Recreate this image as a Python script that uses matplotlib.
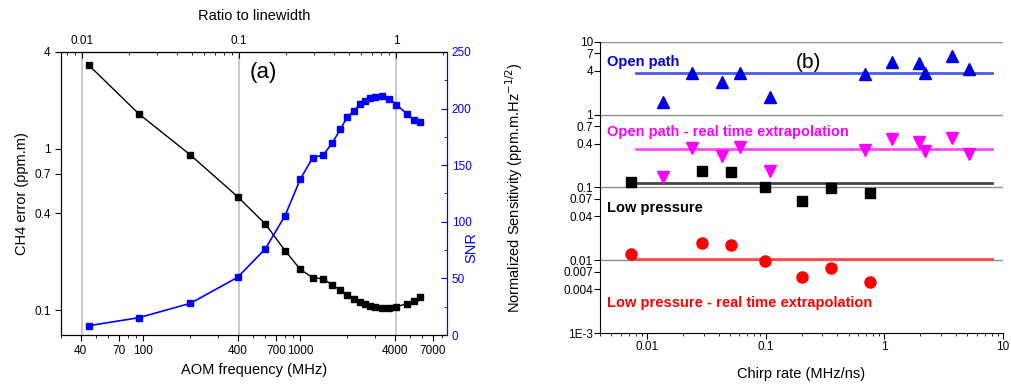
import numpy as np
import matplotlib
matplotlib.use('Agg')
import matplotlib.pyplot as plt
from matplotlib.ticker import FixedLocator, NullFormatter, LogLocator

plt.rcParams['font.family'] = ['Liberation Sans', 'DejaVu Sans']

# ---- panel (a) data
aom_freq = [45, 94, 200, 400, 600, 800, 1000, 1200, 1400, 1600, 1800, 2000,
            2200, 2400, 2600, 2800, 3000, 3300, 3700, 4100, 4800, 5300, 5800]
ch4_err = [3.32, 1.65, 0.918, 0.505, 0.342, 0.234, 0.179, 0.159, 0.156, 0.1436,
           0.1327, 0.1234, 0.1175, 0.1124, 0.1086, 0.1064, 0.1047, 0.1032,
           0.1032, 0.1052, 0.1093, 0.1146, 0.1213]
snr = [8.2, 15.3, 28, 51, 76.2, 105.3, 137.5, 156.6, 159, 169.6, 181.7, 192.8,
       198.1, 204, 207, 209.1, 210.5, 210.9, 208.7, 203.4, 195.2, 189.9, 187.9]
linewidth_mhz = 4080.0

# ---- panel (b) data
lp_rate = [0.0073, 0.0292, 0.051, 0.098, 0.201, 0.352, 0.752]
lp_sens = [0.120, 0.170, 0.162, 0.1026, 0.065, 0.0975, 0.085]
lp_rt_sens = [0.0123, 0.0173, 0.0160, 0.0098, 0.00594, 0.00775, 0.00498]
op_rate = [0.01355, 0.024, 0.0424, 0.0604, 0.1095, 0.688, 1.16, 1.94, 2.18, 3.71, 5.18]
op_sens = [1.51, 3.78, 2.79, 3.78, 1.77, 3.63, 5.26, 5.15, 3.78, 6.42, 4.26]
op_rt_sens = [0.1407, 0.346, 0.271, 0.360, 0.169, 0.328, 0.460, 0.426, 0.321, 0.479, 0.286]
fit_range = [0.008, 8]
op_mean = 3.71
op_rt_mean = 0.335
lp_mean = 0.115
lp_rt_mean = 0.0105

fig = plt.figure(figsize=(10.11, 3.85), dpi=100)

# ================= (a)
ax = fig.add_axes([61/1011, 1-335/385, (447-61)/1011, (335-52)/385])
ax.set_xscale('log')
ax.set_yscale('log')
ax.set_xlim(30, 8600)
ax.set_ylim(0.07, 4)

for r in [0.01, 0.1, 1]:
    ax.axvline(r*linewidth_mhz, color='#c0c0c0', lw=1.2, zorder=0)

ax.plot(aom_freq, ch4_err, color='black', lw=1, marker='s', ms=5, zorder=3)
ax.xaxis.set_major_locator(FixedLocator([40, 70, 100, 400, 700, 1000, 4000, 7000]))
ax.xaxis.set_minor_locator(LogLocator(base=10, subs=np.arange(2, 10)))
ax.xaxis.set_minor_formatter(NullFormatter())
ax.set_xticklabels(['40', '70', '100', '400', '700', '1000', '4000', '7000'])
ax.yaxis.set_major_locator(FixedLocator([0.1, 0.4, 0.7, 1, 4]))
ax.yaxis.set_minor_locator(FixedLocator([]))
ax.set_yticklabels(['0.1', '0.4', '0.7', '1', '4'])
ax.tick_params(axis='both', which='major', labelsize=8.5, length=4, direction='out')
ax.tick_params(axis='x', which='minor', length=2.5, direction='out')
ax.set_xlabel('AOM frequency (MHz)', fontsize=10.5)
ax.set_ylabel('CH4 error (ppm.m)', fontsize=10.5, labelpad=4)
ax.spines['right'].set_color('blue')
ax.text(580, 3.0, '(a)', fontsize=16, ha='center', va='center')

ax2 = ax.twinx()
ax2.set_ylim(0, 250)
ax2.plot(aom_freq, snr, color='blue', lw=1.2, marker='s', ms=5, zorder=3)
ax2.set_yticks([0, 50, 100, 150, 200, 250])
ax2.set_yticks([25, 75, 125, 175, 225], minor=True)
ax2.tick_params(axis='y', which='major', colors='blue', labelsize=8.5, length=4, direction='in')
ax2.tick_params(axis='y', which='minor', colors='blue', length=2.5, direction='in')
ax2.set_ylabel('SNR', color='blue', fontsize=10.5)
ax2.yaxis.set_label_coords((464-61)/386, 0.31)
ax2.spines['right'].set_color('blue')

top = ax.secondary_xaxis('top', functions=(lambda f: f/linewidth_mhz, lambda r: r*linewidth_mhz))
top.xaxis.set_major_locator(FixedLocator([0.01, 0.1, 1]))
top.set_xticklabels(['0.01', '0.1', '1'])
top.xaxis.set_minor_locator(LogLocator(base=10, subs=np.arange(2, 10)))
top.xaxis.set_minor_formatter(NullFormatter())
top.tick_params(which='major', labelsize=8.5, length=4, direction='in')
top.tick_params(which='minor', length=2.5, direction='in')
top.set_xlabel('Ratio to linewidth', fontsize=10.5, labelpad=11)

# ================= (b)
bx = fig.add_axes([600/1011, 1-333/385, (1003-600)/1011, (333-42)/385])
bx.set_xscale('log')
bx.set_yscale('log')
bx.set_xlim(0.004, 10)
bx.set_ylim(1e-3, 10)
for s in ['top', 'right']:
    bx.spines[s].set_visible(False)
for g in [10, 1, 0.1, 0.01]:
    bx.axhline(g, color='#909090', lw=1, zorder=0)

bx.plot(fit_range, [op_mean]*2, color='#4a5cf0', lw=2, zorder=1)
bx.plot(fit_range, [op_rt_mean]*2, color='#ff4cff', lw=2, zorder=1)
bx.plot(fit_range, [lp_mean]*2, color='#454545', lw=2, zorder=1)
bx.plot(fit_range, [lp_rt_mean]*2, color='#ff4a4a', lw=2, zorder=1)

bx.plot(op_rate, op_sens, ls='none', marker='^', ms=8, color='#0000e0', zorder=3)
bx.plot(op_rate, op_rt_sens, ls='none', marker='v', ms=8, color='#ff00ff', zorder=3)
bx.plot(lp_rate, lp_sens, ls='none', marker='s', ms=7, color='black', zorder=3)
bx.plot(lp_rate, lp_rt_sens, ls='none', marker='o', ms=8, color='red', zorder=3)

bx.yaxis.set_major_locator(FixedLocator([1e-3, 0.004, 0.007, 0.01, 0.04, 0.07, 0.1,
                                         0.4, 0.7, 1, 4, 7, 10]))
bx.yaxis.set_minor_locator(FixedLocator([]))
bx.set_yticklabels(['1E-3', '0.004', '0.007', '0.01', '0.04', '0.07', '0.1',
                    '0.4', '0.7', '1', '4', '7', '10'])
bx.xaxis.set_major_locator(FixedLocator([0.01, 0.1, 1, 10]))
bx.set_xticklabels(['0.01', '0.1', '1', '10'])
bx.xaxis.set_minor_locator(LogLocator(base=10, subs=np.arange(2, 10)))
bx.xaxis.set_minor_formatter(NullFormatter())
bx.tick_params(axis='both', which='major', labelsize=8.5, length=4, direction='out', pad=2)
bx.tick_params(axis='y', which='major', pad=1)
bx.tick_params(axis='x', which='minor', length=2.5, direction='out')
bx.set_xlabel('Chirp rate (MHz/ns)', fontsize=10.5, labelpad=10)
bx.set_ylabel('Normalized Sensitivity (ppm.m.Hz$^{-1/2}$)', fontsize=10.5)
bx.yaxis.set_label_coords((525-600)/403, 0.5)

bx.text(0.0046, 5.3, 'Open path', color='#0000e0', fontsize=10.5, fontweight='bold', va='center')
bx.text(0.0046, 0.58, 'Open path - real time extrapolation', color='#ff00ff', fontsize=10.5,
        fontweight='bold', va='center')
bx.text(0.0046, 0.053, 'Low pressure', color='black', fontsize=10.5, fontweight='bold', va='center')
bx.text(0.0046, 0.0026, 'Low pressure - real time extrapolation', color='red', fontsize=10.5,
        fontweight='bold', va='center')
bx.text(0.23, 5.3, '(b)', fontsize=15, ha='center', va='center')

plt.savefig('out.png', dpi=100)
